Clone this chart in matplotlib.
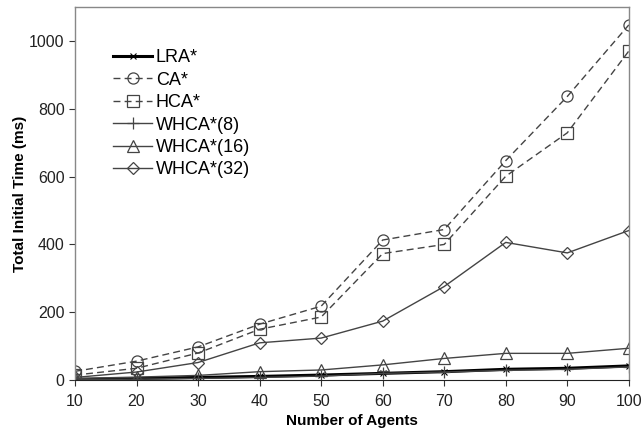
import matplotlib
matplotlib.use("Agg")
import matplotlib.pyplot as plt

agents = [10, 20, 30, 40, 50, 60, 70, 80, 90, 100]
lra = [2, 5, 8, 11, 15, 20, 25, 32, 35, 42]
ca = [26, 56, 98, 165, 218, 413, 444, 647, 836, 1047]
hca = [15, 35, 80, 150, 186, 373, 400, 601, 729, 970]
whca8 = [1, 3, 5, 8, 12, 20, 24, 29, 32, 39]
whca16 = [5, 9, 14, 25, 30, 45, 64, 79, 79, 94]
whca32 = [8, 24, 52, 110, 124, 174, 276, 406, 375, 441]

plt.rcParams['font.family'] = ['Liberation Sans', 'DejaVu Sans']

fig = plt.figure(figsize=(6.41, 4.32), dpi=100)
ax = fig.add_axes([0.117, 0.12, 0.864, 0.864])

g = '#444444'
ax.plot(agents, lra, color='black', lw=2.2, marker='x', ms=4, mew=0.8, label='LRA*')
ax.plot(agents, ca, color=g, lw=1.0, ls=(0, (5, 3)), marker='o', ms=8, mfc='none', mec=g, mew=0.9, label='CA*')
ax.plot(agents, hca, color=g, lw=1.0, ls=(0, (5, 3)), marker='s', ms=8, mfc='none', mec=g, mew=0.9, label='HCA*')
ax.plot(agents, whca8, color=g, lw=1.0, marker='+', ms=9, mew=0.9, label='WHCA*(8)')
ax.plot(agents, whca16, color=g, lw=1.0, marker='^', ms=8, mfc='none', mec=g, mew=0.9, label='WHCA*(16)')
ax.plot(agents, whca32, color=g, lw=1.0, marker='D', ms=6, mfc='none', mec=g, mew=0.9, label='WHCA*(32)')

ax.set_xlim(10, 100)
ax.set_ylim(0, 1100)
ax.set_xticks(agents)
ax.set_yticks([0, 200, 400, 600, 800, 1000])
ax.tick_params(labelsize=11.5, length=4, width=0.8, colors='#333333', labelcolor='#222222')
ax.tick_params(axis='x', pad=6)
for s in ['left', 'top', 'right']:
    ax.spines[s].set_color('#888888')
    ax.spines[s].set_linewidth(1.0)
ax.spines['bottom'].set_color('#222222')

ax.set_xlabel('Number of Agents', fontsize=11, fontweight='bold')
ax.set_ylabel('Total Initial Time (ms)', fontsize=11, fontweight='bold')
ax.xaxis.set_label_coords(0.5, -0.092)
ax.yaxis.set_label_coords(-0.086, 0.5)

leg = ax.legend(loc='upper left', bbox_to_anchor=(0.04, 0.93), frameon=False,
                fontsize=13, handlelength=2.15, handletextpad=0.2, labelspacing=0.3)

fig.savefig('out.png', dpi=100)
